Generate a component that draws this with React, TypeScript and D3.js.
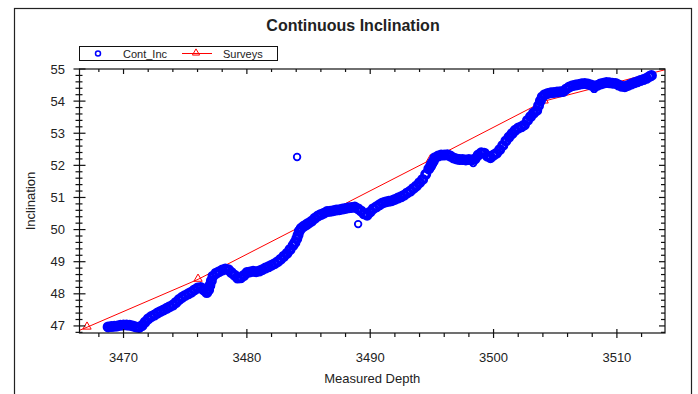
import React, { useRef, useEffect } from 'react';
import * as d3 from 'd3';

// Cont_Inc: continuous inclination readings (measured depth, inclination)
const contDepth = [
  3468.75, 3469.0, 3469.25, 3469.5, 3469.75, 3470.0, 3470.25, 3470.5, 3470.75, 3471.0,
  3471.25, 3471.5, 3471.75, 3472.0, 3472.25, 3472.5, 3472.75, 3473.0, 3473.25, 3473.5,
  3473.75, 3474.0, 3474.25, 3474.5, 3474.75, 3475.0, 3475.25, 3475.5, 3475.75, 3476.0,
  3476.25, 3476.5, 3476.75, 3476.9, 3477.0, 3477.12, 3477.25, 3477.5, 3477.75, 3478.0,
  3478.25, 3478.5, 3478.75, 3479.0, 3479.25, 3479.5, 3479.75, 3480.0, 3480.25, 3480.5,
  3480.75, 3481.0, 3481.25, 3481.5, 3481.75, 3482.0, 3482.25, 3482.5, 3482.75, 3483.0,
  3483.25, 3483.5, 3483.75, 3483.9, 3484.05, 3484.15, 3484.25, 3484.4, 3484.6, 3484.8,
  3485.0, 3485.25, 3485.5, 3485.75, 3486.0, 3486.25, 3486.5, 3486.75, 3487.0, 3487.25,
  3487.5, 3487.75, 3488.0, 3488.25, 3488.5, 3488.75, 3489.0, 3489.25, 3489.5, 3489.75,
  3490.0, 3490.25, 3490.5, 3490.75, 3491.0, 3491.25, 3491.5, 3491.75, 3492.0, 3492.25,
  3492.5, 3492.75, 3493.0, 3493.25, 3493.5, 3493.75, 3494.0, 3494.25, 3494.5, 3494.75,
  3494.9, 3495.0, 3495.12, 3495.25, 3495.5, 3495.75, 3496.0, 3496.25, 3496.5, 3496.75,
  3497.0, 3497.25, 3497.5, 3497.75, 3498.0, 3498.25, 3498.5, 3498.75, 3499.0, 3499.25,
  3499.5, 3499.75, 3500.0, 3500.25, 3500.5, 3500.75, 3501.0, 3501.25, 3501.5, 3501.75,
  3502.0, 3502.25, 3502.5, 3502.75, 3503.0, 3503.25, 3503.5, 3503.65, 3503.8, 3503.95,
  3504.15, 3504.4, 3504.65, 3504.9, 3505.15, 3505.4, 3505.65, 3505.9, 3506.15, 3506.4,
  3506.65, 3506.9, 3507.15, 3507.4, 3507.65, 3507.9, 3508.15, 3508.4, 3508.65, 3508.9,
  3509.15, 3509.4, 3509.65, 3509.9, 3510.15, 3510.4, 3510.65, 3510.9, 3511.15, 3511.4,
  3511.65, 3511.9, 3512.15, 3512.4, 3512.65, 3512.8,
];
const contInc = [
  46.97, 46.98, 46.99, 47.0, 47.02, 47.03, 47.03, 47.02, 47.0, 46.97,
  46.95, 47.01, 47.12, 47.22, 47.29, 47.34, 47.4, 47.45, 47.5, 47.55,
  47.6, 47.65, 47.73, 47.82, 47.89, 47.95, 48.0, 48.05, 48.12, 48.18,
  48.2, 48.12, 48.04, 48.12, 48.26, 48.4, 48.55, 48.64, 48.69, 48.74,
  48.77, 48.75, 48.66, 48.58, 48.49, 48.5, 48.57, 48.66, 48.68, 48.7,
  48.69, 48.71, 48.75, 48.8, 48.84, 48.89, 48.94, 49.0, 49.08, 49.17,
  49.26, 49.38, 49.51, 49.6, 49.72, 49.83, 49.95, 50.04, 50.1, 50.15,
  50.2, 50.26, 50.35, 50.42, 50.47, 50.51, 50.56, 50.57, 50.59, 50.61,
  50.62, 50.64, 50.66, 50.68, 50.69, 50.7, 50.65, 50.58, 50.49, 50.45,
  50.55, 50.65, 50.71, 50.77, 50.83, 50.86, 50.88, 50.9, 50.94, 50.98,
  51.02, 51.07, 51.14, 51.2, 51.28, 51.36, 51.46, 51.56, 51.72, 51.89,
  51.98, 52.06, 52.13, 52.24, 52.29, 52.32, 52.32, 52.33, 52.29, 52.23,
  52.2, 52.18, 52.18, 52.17, 52.18, 52.17, 52.2, 52.32, 52.39, 52.38,
  52.29, 52.24, 52.32, 52.38, 52.49, 52.62, 52.76, 52.88, 52.99, 53.09,
  53.16, 53.2, 53.26, 53.4, 53.52, 53.63, 53.71, 53.86, 54.01, 54.13,
  54.2, 54.24, 54.26, 54.27, 54.28, 54.29, 54.3, 54.38, 54.44, 54.48,
  54.5, 54.52, 54.54, 54.55, 54.53, 54.5, 54.47, 54.49, 54.53, 54.56,
  54.58, 54.57, 54.56, 54.55, 54.5, 54.46, 54.45, 54.49, 54.53, 54.57,
  54.6, 54.64, 54.67, 54.71, 54.77, 54.8,
];

// stray Cont_Inc readings off the main trend
const strayDepth = [3484.07, 3489.02, 3498.35, 3508.16];
const strayInc = [52.26, 50.17, 52.07, 54.38];

// Surveys (first and last stations fall outside the visible depth range)
const surveyDepth = [3457.47, 3467.04, 3476.04, 3485.45, 3494.88, 3504.1, 3523.36];
const surveyInc = [45.45, 46.96, 48.45, 50.31, 52.17, 54.0, 55.92];

const xTicks = [3470, 3480, 3490, 3500, 3510];
const yTicks = [47, 48, 49, 50, 51, 52, 53, 54, 55];

const W = 698;
const H = 394;
const FONT = '"Liberation Sans", Arial, sans-serif';

export default function App() {
  const svgRef = useRef<SVGSVGElement>(null);

  useEffect(() => {
    const svg = d3.select(svgRef.current);
    svg.selectAll('*').remove();

    const left = 79.5, right = 665, top = 69, bottom = 333;

    const x = d3.scaleLinear().domain([3466.43, 3513.9]).range([left, right]);
    const y = d3.scaleLinear().domain([46.78, 55]).range([bottom, top]);

    svg.append('rect').attr('width', W).attr('height', H).attr('fill', '#fff');

    // outer frame
    svg.append('rect')
      .attr('x', 14.5).attr('y', 8.5)
      .attr('width', 677).attr('height', 400)
      .attr('fill', 'none').attr('stroke', '#222').attr('stroke-width', 1.2);

    // title
    svg.append('text')
      .attr('x', 353).attr('y', 31)
      .attr('text-anchor', 'middle')
      .attr('font-family', FONT).attr('font-weight', 'bold').attr('font-size', 16)
      .attr('fill', '#222')
      .text('Continuous Inclination');

    // legend
    const lg = svg.append('g');
    lg.append('rect')
      .attr('x', 79.5).attr('y', 46.5).attr('width', 198).attr('height', 14)
      .attr('fill', '#fff').attr('stroke', '#111').attr('stroke-width', 1);
    lg.append('circle')
      .attr('cx', 98).attr('cy', 53.5).attr('r', 2.5)
      .attr('fill', 'none').attr('stroke', '#0000ff').attr('stroke-width', 1.5);
    lg.append('text')
      .attr('x', 123).attr('y', 57.5)
      .attr('font-family', FONT).attr('font-size', 11).attr('fill', '#222')
      .text('Cont_Inc');
    lg.append('line')
      .attr('x1', 182).attr('x2', 212).attr('y1', 53.5).attr('y2', 53.5)
      .attr('stroke', '#ff0000').attr('stroke-width', 1);
    lg.append('path')
      .attr('transform', 'translate(196,53)')
      .attr('d', d3.symbol(d3.symbolTriangle, 22)())
      .attr('fill', 'none').attr('stroke', '#ff0000').attr('stroke-width', 1);
    lg.append('text')
      .attr('x', 223).attr('y', 57.5)
      .attr('font-family', FONT).attr('font-size', 11).attr('fill', '#222')
      .text('Surveys');

    // clip for data
    svg.append('clipPath').attr('id', 'plot-clip')
      .append('rect')
      .attr('x', left).attr('y', top)
      .attr('width', right - left).attr('height', bottom - top);

    const data = svg.append('g').attr('clip-path', 'url(#plot-clip)');

    // surveys
    const survey = surveyDepth.map((d, i) => [d, surveyInc[i]] as [number, number]);
    data.append('path')
      .attr('d', d3.line<[number, number]>().x(d => x(d[0])).y(d => y(d[1]))(survey))
      .attr('fill', 'none').attr('stroke', '#ff0000').attr('stroke-width', 1);
    data.selectAll('path.tri')
      .data(survey)
      .enter()
      .append('path')
      .attr('class', 'tri')
      .attr('transform', d => `translate(${x(d[0])},${y(d[1]) - 0.5})`)
      .attr('d', d3.symbol(d3.symbolTriangle, 30)())
      .attr('fill', 'none').attr('stroke', '#ff0000').attr('stroke-width', 1);

    // continuous inclination
    const cont = contDepth.map((d, i) => [d, contInc[i]] as [number, number]);
    data.selectAll('circle.ci')
      .data(cont)
      .enter()
      .append('circle')
      .attr('class', 'ci')
      .attr('cx', d => x(d[0]))
      .attr('cy', d => y(d[1]))
      .attr('r', 3.8)
      .attr('fill', 'none')
      .attr('stroke', '#0000ff')
      .attr('stroke-width', 3.4);

    const stray = strayDepth.map((d, i) => [d, strayInc[i]] as [number, number]);
    data.selectAll('circle.stray')
      .data(stray)
      .enter()
      .append('circle')
      .attr('class', 'stray')
      .attr('cx', d => x(d[0]))
      .attr('cy', d => y(d[1]))
      .attr('r', 3.3)
      .attr('fill', 'none')
      .attr('stroke', '#0000ff')
      .attr('stroke-width', 1.8);

    // plot frame
    svg.append('rect')
      .attr('x', left).attr('y', top)
      .attr('width', right - left).attr('height', bottom - top)
      .attr('fill', 'none').attr('stroke', '#111').attr('stroke-width', 1.2);

    const axes = svg.append('g').attr('stroke', '#111').attr('stroke-width', 1.2);
    const xMinor = d3.range(3468, 3514, 2);
    const yMinor = d3.range(0, 42).map(i => 46.8 + i * 0.2);

    // bottom + top ticks
    xMinor.forEach(v => {
      const px = x(v);
      const major = v % 10 === 0;
      axes.append('line')
        .attr('x1', px).attr('x2', px)
        .attr('y1', major ? bottom - 4 : bottom).attr('y2', bottom + (major ? 5 : 4));
      axes.append('line')
        .attr('x1', px).attr('x2', px)
        .attr('y1', top).attr('y2', top + (major ? 5 : 3));
    });

    // left + right ticks
    yMinor.forEach(v => {
      const py = y(v);
      const major = Math.abs(v - Math.round(v)) < 1e-6;
      axes.append('line')
        .attr('y1', py).attr('y2', py)
        .attr('x1', left - (major ? 6 : 4)).attr('x2', left + (major ? 6 : 3));
      axes.append('line')
        .attr('y1', py).attr('y2', py)
        .attr('x1', right - (major ? 6 : 4)).attr('x2', right);
    });

    // tick labels
    svg.append('g').selectAll('text')
      .data(xTicks)
      .enter()
      .append('text')
      .attr('x', d => x(d))
      .attr('y', 362)
      .attr('text-anchor', 'middle')
      .attr('font-family', FONT).attr('font-size', 13).attr('fill', '#222')
      .text(d => d);

    svg.append('g').selectAll('text')
      .data(yTicks)
      .enter()
      .append('text')
      .attr('x', 65)
      .attr('y', d => y(d) + 4.5)
      .attr('text-anchor', 'end')
      .attr('font-family', FONT).attr('font-size', 13).attr('fill', '#222')
      .text(d => d);

    // axis titles
    svg.append('text')
      .attr('x', (left + right) / 2)
      .attr('y', 383)
      .attr('text-anchor', 'middle')
      .attr('font-family', FONT).attr('font-size', 13).attr('fill', '#222')
      .text('Measured Depth');

    svg.append('text')
      .attr('transform', `translate(35,${(top + bottom) / 2}) rotate(-90)`)
      .attr('text-anchor', 'middle')
      .attr('font-family', FONT).attr('font-size', 13).attr('fill', '#222')
      .text('Inclination');
  }, []);

  return (
    <svg
      ref={svgRef}
      width={W}
      height={H}
      viewBox={`0 0 ${W} ${H}`}
      style={{ position: 'absolute', left: 0, top: 0 }}
    />
  );
}
